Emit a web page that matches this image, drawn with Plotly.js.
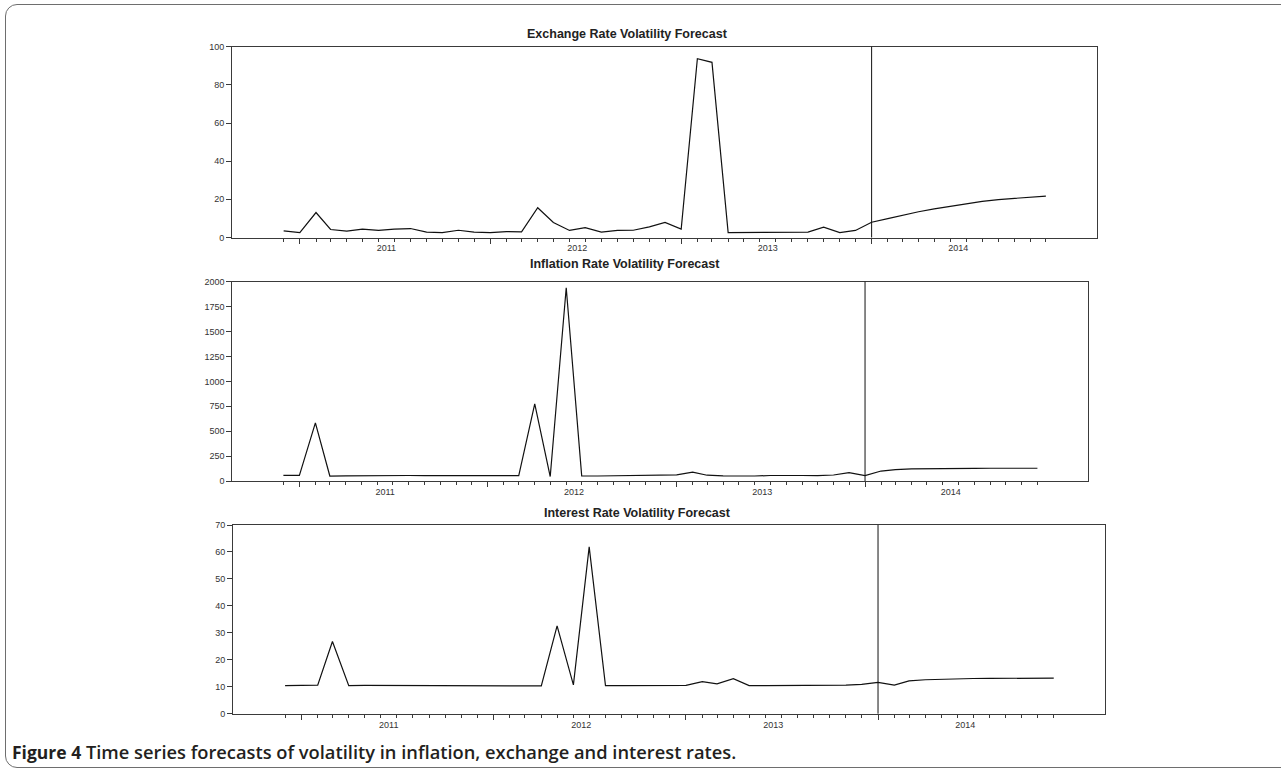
<!DOCTYPE html>
<html>
<head>
<meta charset="utf-8">
<script src="https://cdn.plot.ly/plotly-3.0.1.min.js"></script>
<style>
html,body{margin:0;padding:0;background:#fff;overflow:hidden;}
#wrap{position:relative;width:1281px;height:772px;}
#chart{position:absolute;left:0;top:0;width:1281px;height:772px;}
#frame{position:absolute;left:5px;top:4px;width:1320px;height:764px;border:1.5px solid #6e6e6e;border-radius:12px;box-sizing:border-box;pointer-events:none;}
#caption{position:absolute;left:12px;top:739px;font-family:"Open Sans","Liberation Sans",Arial,sans-serif;font-size:18.3px;color:#231f20;white-space:nowrap;}
#caption b{font-weight:700;font-size:17.5px;}
#caption span{font-weight:600;}
</style>
</head>
<body>
<div id="wrap">
  <div id="chart"></div>
  <div id="frame"></div>
  <div id="caption"><b>Figure 4</b> <span>Time series forecasts of volatility in inflation, exchange and interest rates.</span></div>
</div>
<script>
// ---- data ----
const months = [
  '2010-12-01',
  '2011-01-01','2011-02-01','2011-03-01','2011-04-01','2011-05-01','2011-06-01',
  '2011-07-01','2011-08-01','2011-09-01','2011-10-01','2011-11-01','2011-12-01',
  '2012-01-01','2012-02-01','2012-03-01','2012-04-01','2012-05-01','2012-06-01',
  '2012-07-01','2012-08-01','2012-09-01','2012-10-01','2012-11-01','2012-12-01',
  '2013-01-01','2013-02-01','2013-03-01','2013-04-01','2013-05-01','2013-06-01',
  '2013-07-01','2013-08-01','2013-09-01','2013-10-01','2013-11-01','2013-12-01',
  '2014-01-01','2014-02-01','2014-03-01','2014-04-01','2014-05-01','2014-06-01',
  '2014-07-01','2014-08-01','2014-09-01','2014-10-01','2014-11-01','2014-12-01'
];
const yearStarts = ['2011-01-01','2012-01-01','2013-01-01','2014-01-01'];
const yearMids   = ['2011-06-16','2012-06-16','2013-06-16','2014-06-16'];
const yearLabels = ['2011','2012','2013','2014'];
const forecastStart = '2014-01-01';

const exchangeRate = [
  3.5, 2.6, 13.1, 4.2, 3.3, 4.4, 3.7, 4.4, 4.7, 2.8, 2.6, 3.8, 2.8,
  2.6, 3.1, 3.0, 15.6, 7.9, 3.7, 5.2, 2.8, 3.7, 3.8, 5.6, 7.9,
  4.4, 93.7, 91.8, 2.6, 2.6, 2.8, 2.6, 2.6, 2.8, 5.4, 2.6, 3.7,
  8.0, 9.9, 11.8, 13.5, 15.0, 16.4, 17.8, 18.9, 19.9, 20.6, 21.2, 21.7
];
const inflationRate = [
  57, 57, 583, 50, 52, 54, 56, 56, 55, 54, 53, 52, 52,
  52, 53, 54, 773, 45, 1940, 52, 50, 52, 53, 52, 54,
  62, 88, 58, 52, 50, 50, 55, 52, 55, 54, 60, 84,
  54, 100, 114, 121, 124, 126, 127, 127, 128, 128, 128, 128
];
const interestRate = [
  10.4, 10.5, 10.6, 26.8, 10.4, 10.5, 10.5, 10.5, 10.5, 10.5, 10.4, 10.4, 10.3,
  10.3, 10.3, 10.3, 10.3, 32.6, 10.7, 61.9, 10.4, 10.4, 10.4, 10.5, 10.6,
  10.5, 11.9, 11.1, 13.0, 10.4, 10.4, 10.4, 10.4, 10.4, 10.5, 10.6, 10.9,
  11.6, 10.6, 12.2, 12.6, 12.8, 13.0, 13.05, 13.1, 13.15, 13.2, 13.2, 13.2
];
const panelTitles = ['Exchange Rate Volatility Forecast','Inflation Rate Volatility Forecast','Interest Rate Volatility Forecast'];

// ---- layout geometry (pixels) ----
const W = 1281, H = 772;
const xStart = '2010-08-24', xEnd = '2015-03-09';
const boxes = [
  {l:232, r:1097, t:46.7, b:237.5, yr:[0,100],  dt:20,  titleX:627, titleY:34},
  {l:232.3, r:1088, t:281.7, b:481, yr:[0,2000], dt:250, titleX:625, titleY:263.5},
  {l:233, r:1105.3, t:525, b:713.7, yr:[0,70],  dt:10,  titleX:637, titleY:512.5}
];
const series = [exchangeRate, inflationRate, interestRate];
const FONT = '"Liberation Sans", Arial, sans-serif';
const AX = '#3a3a3a';
const tickFont = {family: FONT, size: 9, color: '#333'};

const data = [];
const layout = {
  width: W, height: H,
  margin: {l:0, r:0, t:0, b:0},
  paper_bgcolor: 'rgba(0,0,0,0)', plot_bgcolor: 'rgba(0,0,0,0)',
  showlegend: false,
  font: {family: FONT, color: '#333'},
  shapes: [], annotations: []
};

boxes.forEach((b, i) => {
  const n = i === 0 ? '' : String(i + 1);
  const xId = 'x' + n, yId = 'y' + n;
  const tickId = 'x' + (i + 4), labelId = 'x' + (i + 7);
  data.push({
    x: months, y: series[i], type: 'scatter', mode: 'lines',
    xaxis: xId, yaxis: yId,
    line: {color: '#111', width: 1.2}, hoverinfo: 'skip'
  });
  // transparent copies so the overlay axes (year ticks / year labels) get drawn
  [tickId, labelId].forEach(id => data.push({
    x: months, y: series[i], type: 'scatter', mode: 'lines',
    xaxis: id, yaxis: yId, opacity: 0,
    line: {color: 'rgba(0,0,0,0)', width: 0}, hoverinfo: 'skip'
  }));
  // main axis: monthly ticks, frame lines
  layout['xaxis' + n] = {
    domain: [b.l / W, b.r / W], anchor: yId, type: 'date',
    range: [xStart, xEnd], fixedrange: true,
    tickmode: 'array', tickvals: months, showticklabels: false,
    ticks: 'outside', ticklen: 3, tickwidth: 1, tickcolor: AX,
    showline: true, linecolor: AX, linewidth: 1, mirror: true,
    showgrid: false, zeroline: false
  };
  // overlay: longer ticks at January
  layout['xaxis' + (i + 4)] = {
    overlaying: xId, anchor: yId, side: 'bottom', type: 'date',
    range: [xStart, xEnd], fixedrange: true,
    tickmode: 'array', tickvals: yearStarts, showticklabels: false,
    ticks: 'outside', ticklen: 5, tickwidth: 1, tickcolor: AX,
    showline: false, showgrid: false, zeroline: false
  };
  // overlay: year labels centred on each year
  layout['xaxis' + (i + 7)] = {
    overlaying: xId, anchor: yId, side: 'bottom', type: 'date',
    range: [xStart, xEnd], fixedrange: true,
    tickmode: 'array', tickvals: yearMids, ticktext: yearLabels,
    ticks: 'outside', ticklen: 2, tickcolor: 'rgba(0,0,0,0)',
    showline: false, showgrid: false, zeroline: false,
    tickfont: tickFont
  };
  layout['yaxis' + n] = {
    domain: [1 - b.b / H, 1 - b.t / H], anchor: xId,
    range: b.yr, dtick: b.dt, tick0: 0, fixedrange: true,
    ticks: 'outside', ticklen: 5, tickwidth: 1, tickcolor: AX,
    showline: true, linecolor: AX, linewidth: 1, mirror: true,
    showgrid: false, zeroline: false,
    tickfont: tickFont
  };
  layout.shapes.push({
    type: 'line', xref: xId, yref: yId + ' domain',
    x0: forecastStart, x1: forecastStart, y0: 0, y1: 1,
    line: {color: '#111', width: 1}
  });
  layout.annotations.push({
    xref: 'paper', yref: 'paper', x: b.titleX / W, y: 1 - b.titleY / H,
    xanchor: 'center', yanchor: 'middle', showarrow: false,
    text: '<b>' + panelTitles[i] + '</b>',
    font: {family: FONT, size: 12.5, color: '#222'}
  });
});

Plotly.newPlot('chart', data, layout, {displayModeBar: false, staticPlot: true});
</script>
</body>
</html>
